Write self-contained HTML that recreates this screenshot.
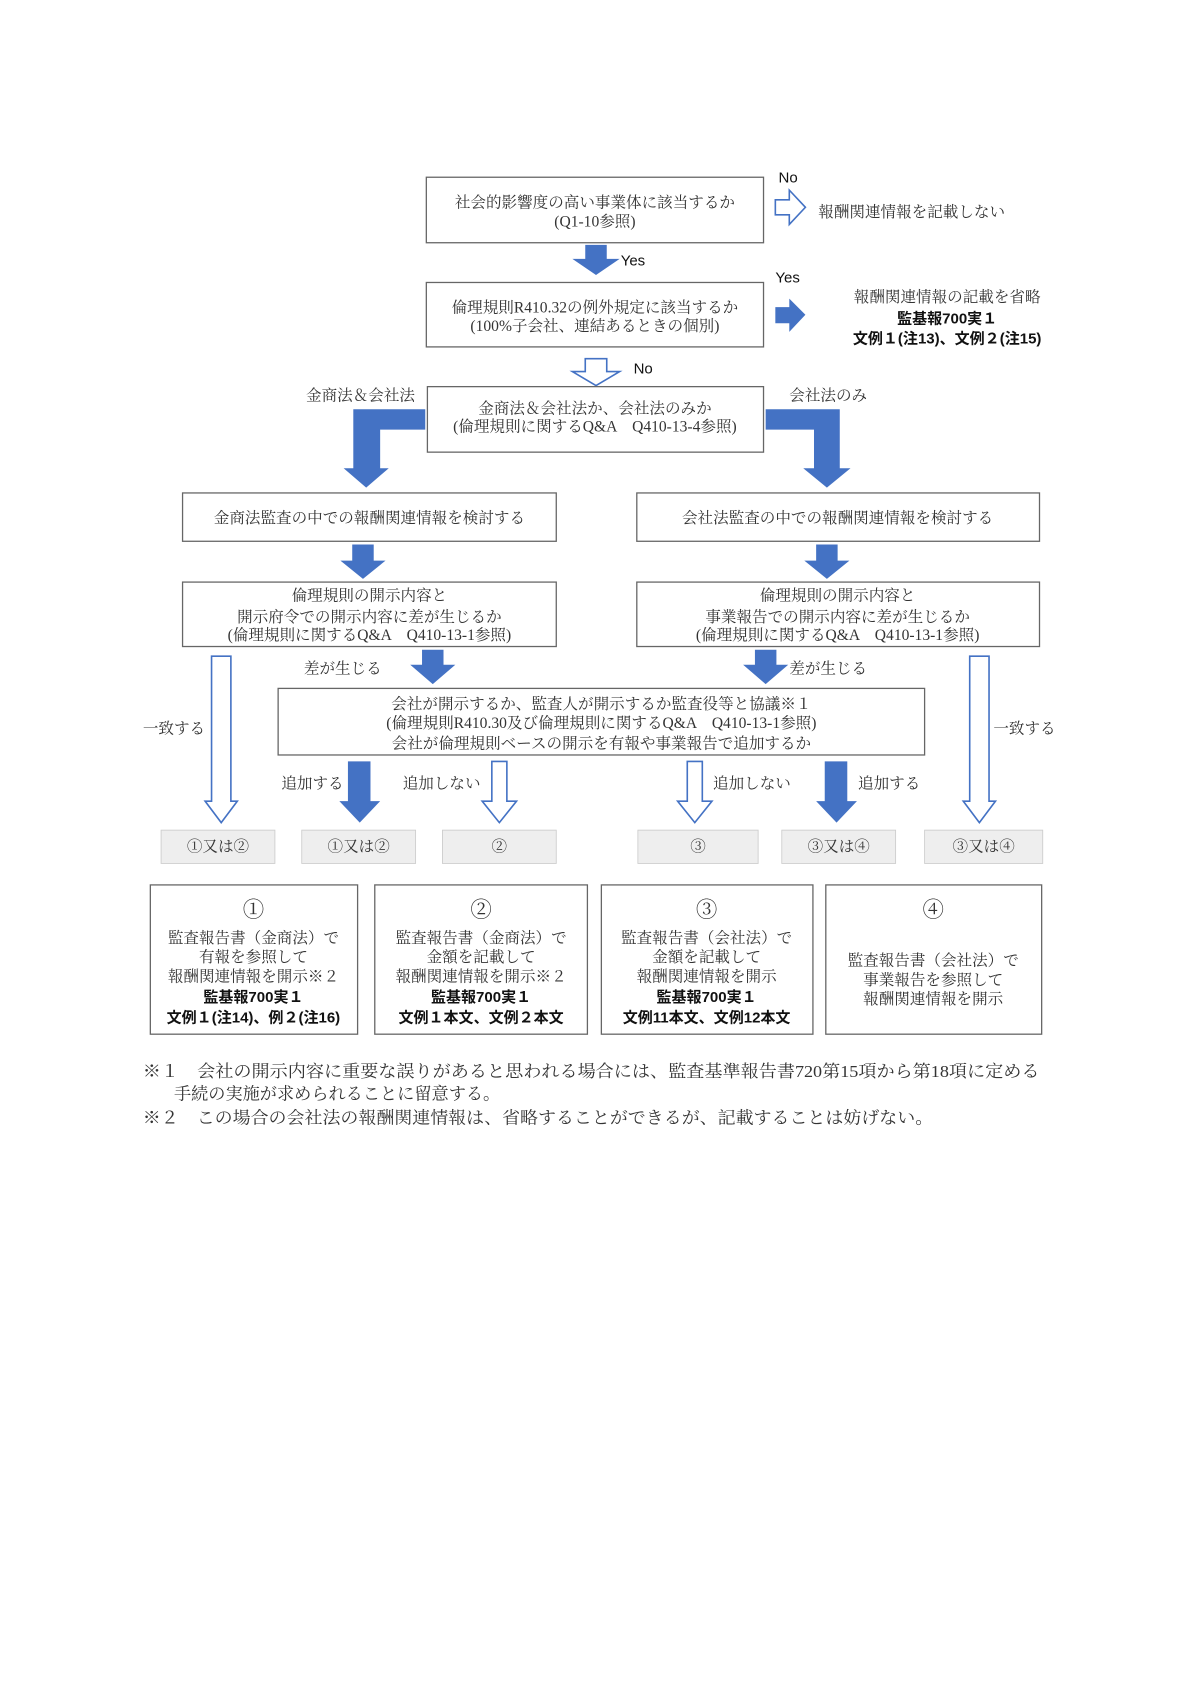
<!DOCTYPE html>
<html><head><meta charset="utf-8"><style>
html,body{margin:0;padding:0;background:#fff;}
svg{display:block;}
.t{font-family:"Liberation Serif","Noto Serif CJK SC",serif;font-size:14.5px;fill:#333;}
.b{font-family:"Liberation Sans","Noto Sans CJK JP",sans-serif;font-size:14px;font-weight:bold;fill:#111;}
.s{font-family:"Liberation Sans","Noto Sans CJK JP",sans-serif;font-size:14px;fill:#111;}
.bx{fill:#fff;stroke:#666;stroke-width:1.2;}
.g{fill:#eeeeee;stroke:#ccc;stroke-width:0.8;}
.f{fill:#4472C4;}
.h{fill:#fff;stroke:#4472C4;stroke-width:1.5;}
</style></head><body>
<svg width="1192" height="1685" viewBox="0 0 1110 1569" xmlns="http://www.w3.org/2000/svg">
<!-- Box1 -->
<rect class="bx" x="397" y="165" width="314" height="61"/>
<text class="t" x="554" y="193" text-anchor="middle">社会的影響度の高い事業体に該当するか</text>
<text class="t" x="554" y="211" text-anchor="middle">(Q1-10参照)</text>
<text class="s" x="725" y="170">No</text>
<polygon class="h" points="722,186 735,186 735,177 750,193 735,209 735,200 722,200"/>
<text class="t" x="762" y="202">報酬関連情報を記載しない</text>
<!-- arrow yes -->
<polygon class="f" points="545,228 565,228 565,241 577,241 555,256 533,241 545,241"/>
<text class="s" x="578" y="247">Yes</text>
<!-- Box2 -->
<rect class="bx" x="397" y="263" width="314" height="60"/>
<text class="t" x="554" y="291" text-anchor="middle">倫理規則R410.32の例外規定に該当するか</text>
<text class="t" x="554" y="308" text-anchor="middle">(100%子会社、連結あるときの個別)</text>
<text class="s" x="722" y="263">Yes</text>
<polygon class="f" points="722,286 735,286 735,278 750,293 735,309 735,301 722,301"/>
<text class="t" x="882" y="281" text-anchor="middle">報酬関連情報の記載を省略</text>
<text class="b" x="882" y="301" text-anchor="middle">監基報700実１</text>
<text class="b" x="882" y="320" text-anchor="middle">文例１(注13)、文例２(注15)</text>
<!-- arrow no -->
<polygon class="h" points="545,334 565,334 565,346 577,346 555,359 533,346 545,346"/>
<text class="s" x="590" y="348">No</text>
<!-- Box3 -->
<rect class="bx" x="398" y="360" width="313" height="61"/>
<text class="t" x="554" y="385" text-anchor="middle">金商法＆会社法か、会社法のみか</text>
<text class="t" x="554" y="402" text-anchor="middle">(倫理規則に関するQ&amp;A　Q410-13-4参照)</text>
<text class="t" x="285" y="373">金商法＆会社法</text>
<text class="t" x="735" y="373">会社法のみ</text>
<polygon class="f" points="396,381 396,400 354,400 354,436 362,436 341,454 320,436 329,436 329,381"/>
<polygon class="f" points="713,381 782,381 782,436 792,436 770,454 748,436 758,436 758,400 713,400"/>
<!-- Box4 -->
<rect class="bx" x="170" y="459" width="348" height="45"/>
<text class="t" x="344" y="487" text-anchor="middle">金商法監査の中での報酬関連情報を検討する</text>
<rect class="bx" x="593" y="459" width="375" height="45"/>
<text class="t" x="780" y="487" text-anchor="middle">会社法監査の中での報酬関連情報を検討する</text>
<polygon class="f" points="328,507 348,507 348,522 359,522 338,539 317,522 328,522"/>
<polygon class="f" points="760,507 780,507 780,522 791,522 770,539 749,522 760,522"/>
<!-- Box5 -->
<rect class="bx" x="170" y="542" width="348" height="60"/>
<text class="t" x="344" y="559" text-anchor="middle">倫理規則の開示内容と</text>
<text class="t" x="344" y="579" text-anchor="middle">開示府令での開示内容に差が生じるか</text>
<text class="t" x="344" y="596" text-anchor="middle">(倫理規則に関するQ&amp;A　Q410-13-1参照)</text>
<rect class="bx" x="593" y="542" width="375" height="60"/>
<text class="t" x="780" y="559" text-anchor="middle">倫理規則の開示内容と</text>
<text class="t" x="780" y="579" text-anchor="middle">事業報告での開示内容に差が生じるか</text>
<text class="t" x="780" y="596" text-anchor="middle">(倫理規則に関するQ&amp;A　Q410-13-1参照)</text>
<!-- diff arrows -->
<text class="t" x="283" y="627">差が生じる</text>
<polygon class="f" points="393,605 413,605 413,619 424,619 403,637 382,619 393,619"/>
<polygon class="f" points="703,605 723,605 723,619 734,619 713,637 692,619 703,619"/>
<text class="t" x="735" y="627">差が生じる</text>
<!-- long hollow arrows -->
<polygon class="h" points="197,611 215,611 215,746 221,746 206,766 191,746 197,746"/>
<text class="t" x="133" y="683">一致する</text>
<polygon class="h" points="903,611 921,611 921,746 927,746 912,766 897,746 903,746"/>
<text class="t" x="925" y="683">一致する</text>
<!-- Box6 -->
<rect class="bx" x="259" y="641" width="602" height="62"/>
<text class="t" x="560" y="660" text-anchor="middle">会社が開示するか、監査人が開示するか監査役等と協議※１</text>
<text class="t" x="560" y="678" text-anchor="middle">(倫理規則R410.30及び倫理規則に関するQ&amp;A　Q410-13-1参照)</text>
<text class="t" x="560" y="697" text-anchor="middle">会社が倫理規則ベースの開示を有報や事業報告で追加するか</text>
<!-- lower arrows -->
<text class="t" x="262" y="734">追加する</text>
<polygon class="f" points="324,709 345,709 345,746 354,746 335,766 316,746 324,746"/>
<text class="t" x="375" y="734">追加しない</text>
<polygon class="h" points="458,709 472,709 472,746 481,746 465,766 449,746 458,746"/>
<polygon class="h" points="640,709 654,709 654,746 663,746 647,766 631,746 640,746"/>
<text class="t" x="664" y="734">追加しない</text>
<polygon class="f" points="768,709 789,709 789,746 798,746 779,766 760,746 768,746"/>
<text class="t" x="799" y="734">追加する</text>
<!-- gray boxes -->
<rect class="g" x="150" y="773" width="106" height="31"/>
<text class="t" x="203" y="793" text-anchor="middle">①又は②</text>
<rect class="g" x="281" y="773" width="106" height="31"/>
<text class="t" x="334" y="793" text-anchor="middle">①又は②</text>
<rect class="g" x="412" y="773" width="106" height="31"/>
<text class="t" x="465" y="793" text-anchor="middle">②</text>
<rect class="g" x="594" y="773" width="112" height="31"/>
<text class="t" x="650" y="793" text-anchor="middle">③</text>
<rect class="g" x="728" y="773" width="106" height="31"/>
<text class="t" x="781" y="793" text-anchor="middle">③又は④</text>
<rect class="g" x="861" y="773" width="110" height="31"/>
<text class="t" x="916" y="793" text-anchor="middle">③又は④</text>
<!-- result boxes -->
<rect class="bx" x="140" y="824" width="193" height="139"/>
<text class="t" x="236" y="854" text-anchor="middle" style="font-size:20px">①</text>
<text class="t" x="236" y="878" text-anchor="middle">監査報告書（金商法）で</text>
<text class="t" x="236" y="896" text-anchor="middle">有報を参照して</text>
<text class="t" x="236" y="914" text-anchor="middle">報酬関連情報を開示※２</text>
<text class="b" x="236" y="933" text-anchor="middle">監基報700実１</text>
<text class="b" x="236" y="952" text-anchor="middle">文例１(注14)、例２(注16)</text>
<rect class="bx" x="349" y="824" width="198" height="139"/>
<text class="t" x="448" y="854" text-anchor="middle" style="font-size:20px">②</text>
<text class="t" x="448" y="878" text-anchor="middle">監査報告書（金商法）で</text>
<text class="t" x="448" y="896" text-anchor="middle">金額を記載して</text>
<text class="t" x="448" y="914" text-anchor="middle">報酬関連情報を開示※２</text>
<text class="b" x="448" y="933" text-anchor="middle">監基報700実１</text>
<text class="b" x="448" y="952" text-anchor="middle">文例１本文、文例２本文</text>
<rect class="bx" x="560" y="824" width="197" height="139"/>
<text class="t" x="658" y="854" text-anchor="middle" style="font-size:20px">③</text>
<text class="t" x="658" y="878" text-anchor="middle">監査報告書（会社法）で</text>
<text class="t" x="658" y="896" text-anchor="middle">金額を記載して</text>
<text class="t" x="658" y="914" text-anchor="middle">報酬関連情報を開示</text>
<text class="b" x="658" y="933" text-anchor="middle">監基報700実１</text>
<text class="b" x="658" y="952" text-anchor="middle">文例11本文、文例12本文</text>
<rect class="bx" x="769" y="824" width="201" height="139"/>
<text class="t" x="869" y="854" text-anchor="middle" style="font-size:20px">④</text>
<text class="t" x="869" y="899" text-anchor="middle">監査報告書（会社法）で</text>
<text class="t" x="869" y="917" text-anchor="middle">事業報告を参照して</text>
<text class="t" x="869" y="935" text-anchor="middle">報酬関連情報を開示</text>
<!-- footnotes -->
<text class="t" x="133" y="1003" style="font-size:16px" textLength="835" lengthAdjust="spacingAndGlyphs">※１　会社の開示内容に重要な誤りがあると思われる場合には、監査基準報告書720第15項から第18項に定める</text>
<text class="t" x="162" y="1024" style="font-size:16px">手続の実施が求められることに留意する。</text>
<text class="t" x="133" y="1046" style="font-size:16px" textLength="736" lengthAdjust="spacingAndGlyphs">※２　この場合の会社法の報酬関連情報は、省略することができるが、記載することは妨げない。</text>
</svg>
</body></html>
